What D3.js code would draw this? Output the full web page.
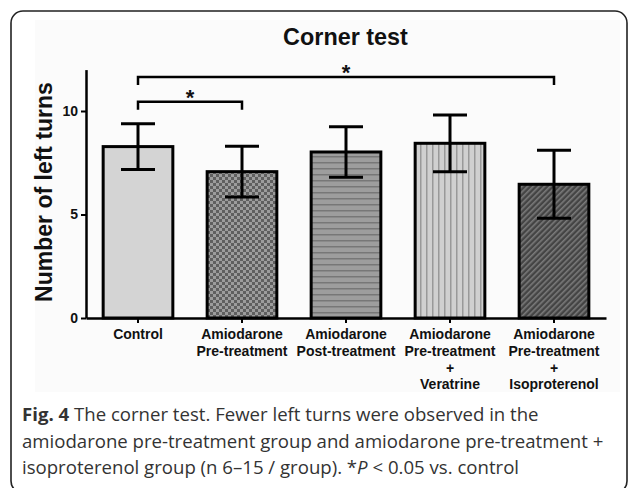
<!DOCTYPE html>
<html>
<head>
<meta charset="utf-8">
<script src="https://cdn.jsdelivr.net/npm/d3@7"></script>
<style>
  body { margin: 0; background: #fff; }
  svg { display: block; }
  .chart text { font-family: "Liberation Sans", Arial, sans-serif; font-weight: bold; fill: #111; }
  .caption { font-family: "Open Sans", sans-serif; font-size: 18.6px; fill: #333; }
</style>
</head>
<body>
<div id="fig"></div>
<script>
// values
const categories = ["Control", "Amio Pre", "Amio Post", "Amio Pre + Veratrine", "Amio Pre + Isoproterenol"];
const categoryLines = [
    ["Control"],
    ["Amiodarone", "Pre-treatment"],
    ["Amiodarone", "Post-treatment"],
    ["Amiodarone", "Pre-treatment", "+", "Veratrine"],
    ["Amiodarone", "Pre-treatment", "+", "Isoproterenol"]
];
const means = [8.28, 7.07, 8.02, 8.44, 6.46];
const sems = [1.11, 1.23, 1.22, 1.37, 1.64];
const fills = ["#d4d4d4", "url(#checker)", "url(#hstripe)", "url(#vstripe)", "url(#diag)"];
const yTicks = [0, 5, 10];
const yMax = 12;
const comparisons = [
    {from: 0, to: 1, level: 10.45, label: "*"},
    {from: 0, to: 4, level: 11.64, label: "*"}
];
const captionLines = [
    [{t: "Fig. 4", b: true}, {t: " The corner test. Fewer left turns were observed in the"}],
    [{t: "amiodarone pre-treatment group and amiodarone pre-treatment +"}],
    [{t: "isoproterenol group (n 6\u201315 / group). *"}, {t: "P", i: true}, {t: " < 0.05 vs. control"}]
];

const W = 630, H = 488;
const svg = d3.select("#fig").append("svg").attr("width", W).attr("height", H);
const defs = svg.append("defs");

// fill patterns
let p = defs.append("pattern").attr("id", "checker").attr("width", 6).attr("height", 6)
    .attr("patternUnits", "userSpaceOnUse");
p.append("rect").attr("width", 6).attr("height", 6).attr("fill", "#9c9c9c");
p.append("rect").attr("width", 3).attr("height", 3).attr("fill", "#5f5f5f");
p.append("rect").attr("x", 3).attr("y", 3).attr("width", 3).attr("height", 3).attr("fill", "#5f5f5f");

p = defs.append("pattern").attr("id", "hstripe").attr("width", 6).attr("height", 6)
    .attr("patternUnits", "userSpaceOnUse");
p.append("rect").attr("width", 6).attr("height", 6).attr("fill", "#9d9d9d");
p.append("rect").attr("width", 6).attr("height", 1.5).attr("fill", "#777");

p = defs.append("pattern").attr("id", "vstripe").attr("width", 6).attr("height", 6)
    .attr("patternUnits", "userSpaceOnUse");
p.append("rect").attr("width", 6).attr("height", 6).attr("fill", "#d0d0d0");
p.append("rect").attr("width", 1.5).attr("height", 6).attr("fill", "#999");

p = defs.append("pattern").attr("id", "diag").attr("width", 4).attr("height", 4)
    .attr("patternUnits", "userSpaceOnUse").attr("patternTransform", "rotate(45)");
p.append("rect").attr("width", 4).attr("height", 4).attr("fill", "#444");
p.append("rect").attr("width", 1.6).attr("height", 4).attr("fill", "#7a7a7a");

// frame + faint panel behind the graph
svg.append("rect").attr("x", 35).attr("y", 20).attr("width", 585).attr("height", 372).attr("fill", "#fbfbfb");
svg.append("rect").attr("x", 11).attr("y", 11).attr("width", 616).attr("height", 482).attr("rx", 12)
    .attr("fill", "none").attr("stroke", "#222").attr("stroke-width", 1.6);

const g = svg.append("g").attr("class", "chart");

const x = d3.scaleBand().domain(categories).range([86, 606]).paddingInner(0.33).paddingOuter(0.165);
const y = d3.scaleLinear().domain([0, yMax]).range([318, 69.6]);

g.append("text").attr("x", 345.5).attr("y", 45).attr("text-anchor", "middle")
    .style("font-size", "23.4px").text("Corner test");

g.append("text").attr("transform", "translate(52," + 192 + ") rotate(-90)")
    .attr("text-anchor", "middle").style("font-size", "23px").text("Number of left turns");

// bars
g.selectAll("rect.bar").data(means).enter().append("rect")
    .attr("class", "bar")
    .attr("x", (d, i) => x(categories[i]))
    .attr("y", d => y(d))
    .attr("width", x.bandwidth())
    .attr("height", d => y(0) - y(d))
    .attr("fill", (d, i) => fills[i])
    .attr("stroke", "#000").attr("stroke-width", 3);

// error bars
const cx = i => x(categories[i]) + x.bandwidth() / 2;
const err = g.selectAll("g.err").data(means).enter().append("g").attr("class", "err")
    .attr("stroke", "#000").attr("stroke-width", 3);
err.append("line").attr("x1", (d, i) => cx(i)).attr("x2", (d, i) => cx(i))
    .attr("y1", (d, i) => y(d - sems[i])).attr("y2", (d, i) => y(d + sems[i]));
err.append("line").attr("x1", (d, i) => cx(i) - 17).attr("x2", (d, i) => cx(i) + 17)
    .attr("y1", (d, i) => y(d + sems[i])).attr("y2", (d, i) => y(d + sems[i]));
err.append("line").attr("x1", (d, i) => cx(i) - 17).attr("x2", (d, i) => cx(i) + 17)
    .attr("y1", (d, i) => y(d - sems[i])).attr("y2", (d, i) => y(d - sems[i]));

// axes
const yAxis = g.append("g").attr("transform", "translate(86,0)")
    .call(d3.axisLeft(y).tickValues(yTicks).tickSize(5).tickSizeOuter(0).tickPadding(3));
yAxis.select(".domain").attr("stroke-width", 2.5);
yAxis.selectAll(".tick line").attr("stroke-width", 2);
yAxis.selectAll(".tick text").style("font-size", "14px").attr("fill", "#111");

const xAxis = g.append("g").attr("transform", "translate(0,318)")
    .call(d3.axisBottom(x).tickSize(5).tickSizeOuter(0).tickFormat(""));
xAxis.select(".domain").attr("stroke-width", 2.5);
xAxis.selectAll(".tick line").attr("stroke-width", 2);
xAxis.selectAll(".tick").each(function(d, i) {
    const t = d3.select(this).append("text").attr("text-anchor", "middle").style("font-size", "14px");
    categoryLines[i].forEach((line, k) => {
        t.append("tspan").attr("x", 0).attr("y", 21 + k * 16.8).text(line);
    });
});

// significance brackets
const br = g.selectAll("g.br").data(comparisons).enter().append("g").attr("class", "br");
br.append("path")
    .attr("d", d => "M" + cx(d.from) + "," + (y(d.level) + 8) + "V" + y(d.level) +
        "H" + cx(d.to) + "V" + (y(d.level) + 8))
    .attr("fill", "none").attr("stroke", "#000").attr("stroke-width", 2.5);
br.append("text").attr("x", d => (cx(d.from) + cx(d.to)) / 2).attr("y", d => y(d.level) + 3)
    .attr("text-anchor", "middle").style("font-size", "22px").text(d => d.label);

// caption
const cap = svg.append("g").attr("class", "caption");
captionLines.forEach((parts, k) => {
    const t = cap.append("text").attr("x", 22).attr("y", 421 + k * 26.5);
    parts.forEach(s => {
        t.append("tspan").text(s.t)
            .style("font-weight", s.b ? "bold" : null)
            .style("font-style", s.i ? "italic" : null);
    });
});
</script>
</body>
</html>
